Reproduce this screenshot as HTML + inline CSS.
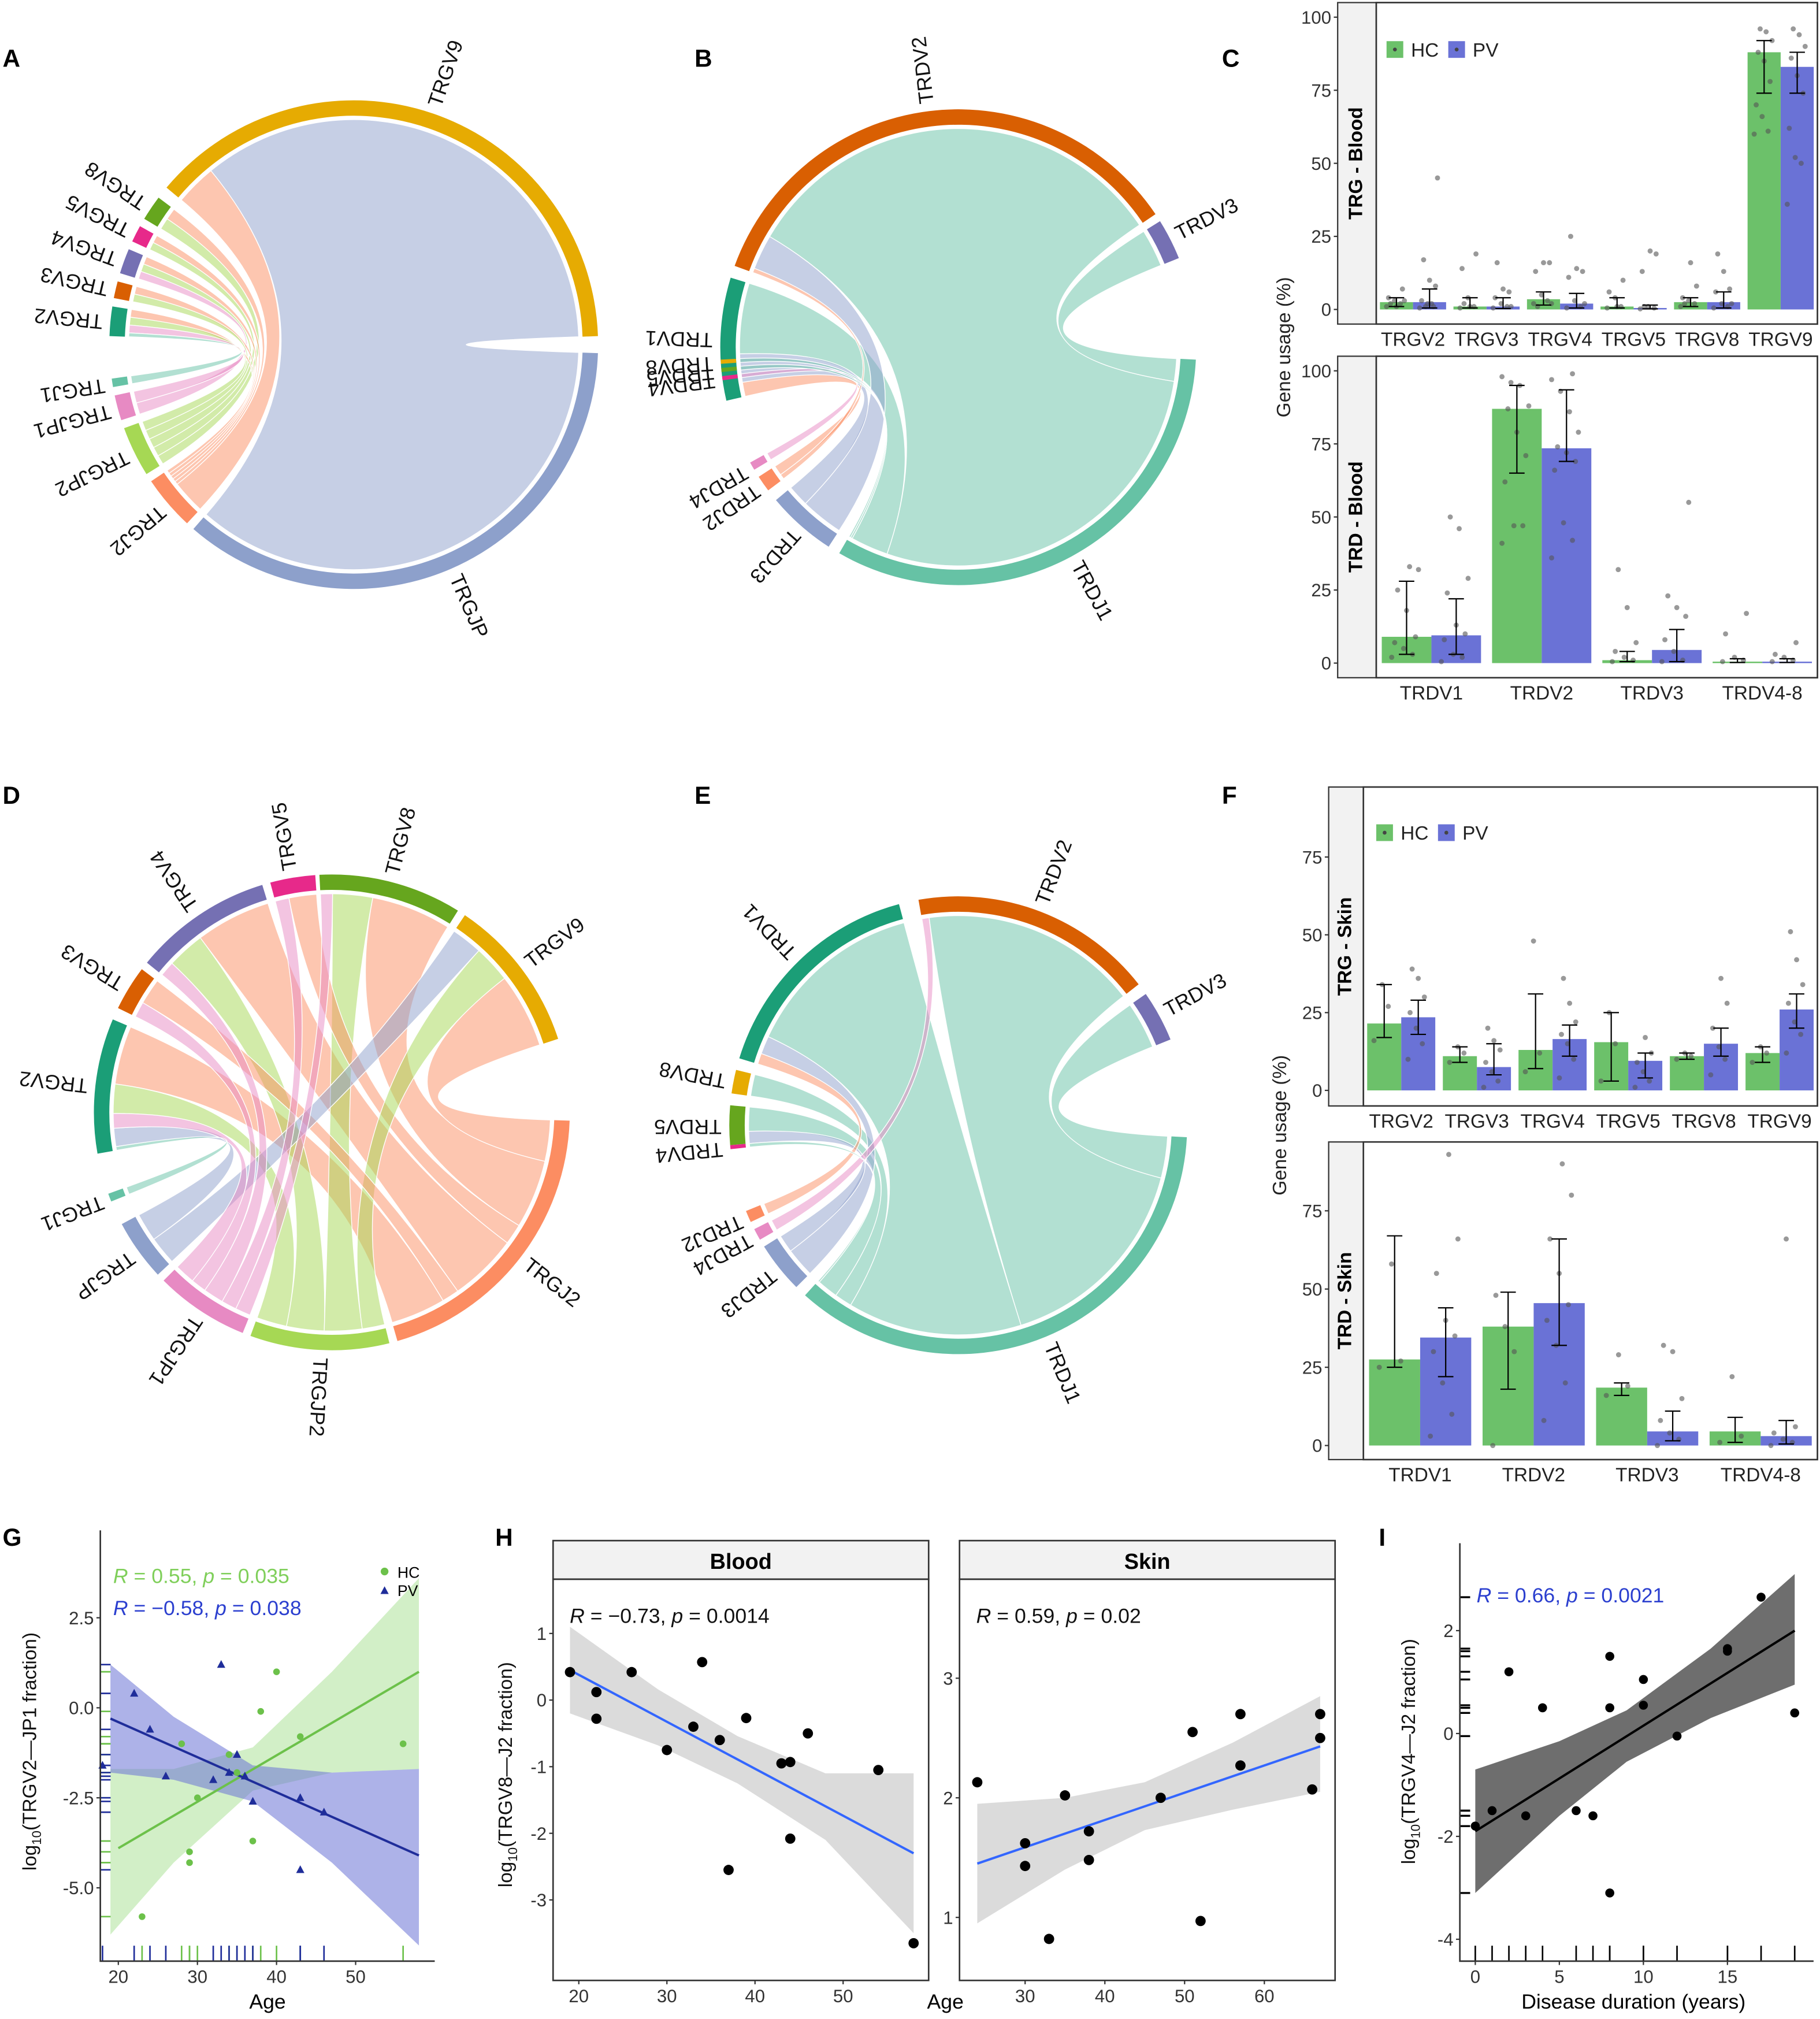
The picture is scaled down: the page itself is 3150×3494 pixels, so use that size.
<!DOCTYPE html>
<html><head><meta charset="utf-8">
<style>
html,body{margin:0;padding:0;background:#fff;}
svg{display:block;font-family:"Liberation Sans",Arial,sans-serif;}
</style></head>
<body>
<svg id="fig" xmlns="http://www.w3.org/2000/svg" width="3150" height="3494" viewBox="0 0 1415 1570" preserveAspectRatio="none">
<rect x="0" y="0" width="1415" height="1570" fill="#fff"/>
</svg>
<script>
// ---------- Chord A data ----------
const aNames=["TRGV9","TRGV8","TRGV5","TRGV4","TRGV3","TRGV2","TRGJ1","TRGJP1","TRGJP2","TRGJ2","TRGJP"];
const aStart=[-140,-149,-155,-163,-169,-178,170,162,148,133,2];
const aEnd=[-2,-143,-151,-157,-165,-171,172,168,160,146,131];
const aSrc=["TRGV9","TRGV9","TRGV8","TRGV8","TRGV5","TRGV5","TRGV4","TRGV4","TRGV4","TRGV3","TRGV3","TRGV2","TRGV2","TRGV2","TRGV2"];
const aTgt=["TRGJ2","TRGJP","TRGJ2","TRGJP2","TRGJ2","TRGJP2","TRGJ2","TRGJP2","TRGJP1","TRGJ2","TRGJP2","TRGJ2","TRGJP2","TRGJP1","TRGJ1"];
const aVal=[10,120,1,1,1,1,1,1,1,1,1,1,1,1,0.5];
// ---------- Chord B data ----------
const bNames=["TRDV1","TRDV2","TRDV3","TRDJ1","TRDJ3","TRDJ2","TRDJ4","TRDV4","TRDV5","TRDV8"];
const bStart=[-193,-160,-32,3,123,143,149,172,174,176];
const bEnd=[-163,-34,-22,120,140,147,151,173,175,177];
const bSrc=["TRDV1","TRDV1","TRDV1","TRDV2","TRDV2","TRDV2","TRDV3","TRDV4","TRDV5","TRDV8"];
const bTgt=["TRDJ3","TRDJ2","TRDJ1","TRDJ3","TRDJ2","TRDJ1","TRDJ1","TRDJ4","TRDJ1","TRDJ1"];
const bVal=[4,2,10,8,1,100,6,0.5,0.5,0.5];
// ---------- Chord D data ----------
const dNames=["TRGV2","TRGV3","TRGV4","TRGV5","TRGV8","TRGV9","TRGJ2","TRGJP2","TRGJP1","TRGJP","TRGJ1"];
const dStart=[-190,-154,-141,-105,-93,-56,2,76,112,137,158];
const dEnd=[-157,-143,-107,-94,-58,-18,74,110,135,152,160];
const dSrc=["TRGV2","TRGV2","TRGV2","TRGV2","TRGV3","TRGV3","TRGV4","TRGV4","TRGV4","TRGV5","TRGV5","TRGV8","TRGV8","TRGV8","TRGV9","TRGV9","TRGV9","TRGV2"];
const dTgt=["TRGJP","TRGJP1","TRGJP2","TRGJ2","TRGJP1","TRGJ2","TRGJP1","TRGJP2","TRGJ2","TRGJP1","TRGJ2","TRGJP2","TRGJP1","TRGJ2","TRGJP","TRGJP2","TRGJ2","TRGJ1"];
const dVal=[5,4,8,16,3,5,4,10,20,3,6,10,3,20,5,6,12,1];
// ---------- Chord E data ----------
const eNames=["TRDV5","TRDV8","TRDV1","TRDV2","TRDV3","TRDJ1","TRDJ3","TRDJ4","TRDJ2","TRDV4"];
const eStart=[-185,-172,-163,-100,-35,3,135,150,155,174];
const eEnd=[-175,-166,-105,-38,-22,132,148,153,158,175];
const eSrc=["TRDV5","TRDV5","TRDV8","TRDV1","TRDV1","TRDV1","TRDV2","TRDV2","TRDV3","TRDV4"];
const eTgt=["TRDJ3","TRDJ1","TRDJ1","TRDJ2","TRDJ3","TRDJ1","TRDJ4","TRDJ1","TRDJ1","TRDJ1"];
const eVal=[3,6,5,3,5,50,2,60,12,0.5];

const segColor={"TRGV9":"#e6ab02","TRGV8":"#66a61e","TRGV5":"#e7298a","TRGV4":"#7570b3","TRGV3":"#d95f02","TRGV2":"#1b9e77",
"TRGJ1":"#66c2a5","TRGJP1":"#e78ac3","TRGJP2":"#a6d854","TRGJ2":"#fc8d62","TRGJP":"#8da0cb",
"TRDV2":"#d95f02","TRDV3":"#7570b3","TRDV1":"#1b9e77","TRDV8":"#e6ab02","TRDV5":"#66a61e","TRDV4":"#e7298a",
"TRDJ1":"#66c2a5","TRDJ3":"#8da0cb","TRDJ2":"#fc8d62","TRDJ4":"#e78ac3"};

// ---------- Bar data ----------
const cTopCats=["TRGV2","TRGV3","TRGV4","TRGV5","TRGV8","TRGV9"];
const cTopHC=[2.5,1,3.5,1,2.5,88];
const cTopPV=[2.5,1,2,0.5,2.5,83];
const cTopHCLo=[1,0.5,1.5,0.5,1,74];
const cTopHCHi=[4,4,6,4,4,92];
const cTopPVLo=[0.5,0.3,0.5,0.2,0.5,74];
const cTopPVHi=[7,4,5.5,1.5,6,88];
const cTopHCPts=[[1,2,3,4,7,1,2,3],[0.5,1,4,14,19,1,2],[2,3,5,13,16,16,1,2],[0.5,1,4,6,10,1],[1,2,3,4,8,16,2],[60,61,66,70,78,85,88,92,95,96]];
const cTopPVPts=[[0.5,1,2,3,8,10,17,45,2,1],[0.5,1,2,4,6,7,16,1],[0.5,1,3,11,13,14,25,2],[0.2,0.5,1,13,19,20,1],[0.5,1,2,6,7,13,19,2],[36,50,52,62,74,80,86,90,94,96]];
const cBotCats=["TRDV1","TRDV2","TRDV3","TRDV4-8"];
const cBotHC=[9,87,1,0.5];
const cBotPV=[9.5,73.5,4.5,0.5];
const cBotHCLo=[3,65,0.5,0.2];
const cBotHCHi=[28,95,4,1.5];
const cBotPVLo=[3,69,0.5,0.2];
const cBotPVHi=[22,93.5,11.5,1.5];
const cBotHCPts=[[2,3,5,7,9,18,25,32,33],[41,47,47,62,71,79,87,88,95,96,98],[0.5,1,2,4,7,19,32],[0.5,1,2,10,17]];
const cBotPVPts=[[0.5,2,3,8,10,13,24,29,46,50],[36,42,48,66,69,72,74,79,86,93,97,99],[0.5,1,4,8,16,19,23,55],[0.5,1,2,3,7]];
const fTopCats=["TRGV2","TRGV3","TRGV4","TRGV5","TRGV8","TRGV9"];
const fTopHC=[21.5,11,13,15.5,11,12];
const fTopPV=[23.5,7.5,16.5,9.5,15,26];
const fTopHCLo=[17,9,7,3,10,9];
const fTopHCHi=[34,14,31,25,12,14];
const fTopPVLo=[18,5,11,4,11,20];
const fTopPVHi=[29,15,21,12,20,31];
const fTopHCPts=[[16,27,34],[9,12,14],[6,12,48],[3,15,25],[10,11,12],[9,12,14]];
const fTopPVPts=[[10,15,20,25,30,36,39],[1,3,6,9,13,16,20],[4,10,15,18,22,28,36],[1,3,6,9,12,17],[5,10,14,20,28,36],[12,18,22,28,34,42,51]];
const fBotCats=["TRDV1","TRDV2","TRDV3","TRDV4-8"];
const fBotHC=[27.5,38,18.5,4.5];
const fBotPV=[34.5,45.5,4.5,3];
const fBotHCLo=[25,18,16,1];
const fBotHCHi=[67,49,20,9];
const fBotPVLo=[22,32,1.5,0.5];
const fBotPVHi=[44,66,11,8];
const fBotHCPts=[[25,27,58],[0,30,38,48],[16,19,29],[1,3,22]];
const fBotPVPts=[[3,10,20,30,35,40,55,66,93],[8,20,32,40,45,55,66,80,90],[0,2,4,8,15,30,32],[0,1,2,4,6,66]];

// ---------- Scatter data ----------
const gHCx=[23,29,29,30,34,37,38,40,43,56,28,35];
const gHCy=[-5.8,-4.0,-4.3,-2.5,-1.3,-3.7,-0.1,1.0,-0.8,-1.0,-1.0,-1.8];
const gPVx=[18,22,24,26,33,35,36,37,43,43,46,34,32];
const gPVy=[-1.6,0.4,-0.6,-1.9,1.2,-1.3,-1.9,-2.6,-4.5,-2.5,-2.9,-1.8,-2.0];
const gHCfitX=[20,58], gHCfitY=[-3.9,1.0];
const gPVfitX=[19,58], gPVfitY=[-0.3,-4.1];
const gHCbandX=[19,27,37,47,58], gHCbandLo=[-6.3,-4.3,-2.3,-1.8,-1.7], gHCbandHi=[-1.7,-1.7,-1.1,1.0,3.6];
const gPVbandX=[19,27,37,47,58], gPVbandLo=[-1.8,-2.0,-2.6,-4.3,-6.6], gPVbandHi=[1.2,-0.25,-1.6,-1.8,-1.7];
const hBx=[19,22,22,26,30,33,34,36,37,39,43,44,44,46,54,58];
const hBy=[0.42,0.12,-0.28,0.42,-0.75,-0.4,0.57,-0.6,-2.55,-0.27,-0.95,-0.93,-2.08,-0.5,-1.05,-3.65];
const hBfitX=[19,58], hBfitY=[0.45,-2.3];
const hBbandX=[19,29,38,48,58], hBbandLo=[-0.2,-0.68,-1.25,-2.1,-3.5], hBbandHi=[1.1,0.16,-0.54,-1.1,-1.1];
const hSx=[24,30,30,33,35,38,38,47,51,52,57,57,66,67,67];
const hSy=[2.13,1.62,1.43,0.82,2.02,1.72,1.48,2.0,2.55,0.97,2.7,2.27,2.07,2.7,2.5];
const hSfitX=[24,67], hSfitY=[1.45,2.43];
const hSbandX=[24,35,45,56,67], hSbandLo=[0.95,1.4,1.73,1.9,2.05], hSbandHi=[1.95,2.0,2.13,2.46,2.85];
const iX=[0,1,2,3,4,6,7,8,8,8,10,10,12,15,15,17,19];
const iY=[-1.8,-1.5,1.2,-1.6,0.5,-1.5,-1.6,1.5,0.5,-3.1,1.05,0.55,-0.05,1.6,1.65,2.65,0.4];
const iFitX=[0,19], iFitY=[-1.9,2.0];
const iBandX=[0,5,9,14,19], iBandLo=[-3.1,-1.6,-0.55,0.3,0.95], iBandHi=[-0.7,-0.15,0.45,1.65,3.1];

const NS="http://www.w3.org/2000/svg";
const svg=document.getElementById('fig');
function mk(tag,attrs,parent){const e=document.createElementNS(NS,tag);for(const k in attrs)e.setAttribute(k,attrs[k]);(parent||svg).appendChild(e);return e;}
function txt(x,y,s,attrs,parent){const t=mk('text',Object.assign({x:x,y:y},attrs||{}),parent);t.textContent=s;return t;}
function rad(a){return a*Math.PI/180;}
function pt(cx,cy,r,a){return [cx+r*Math.cos(rad(a)),cy+r*Math.sin(rad(a))];}

function panelLetter(x,y,s){const t=txt(x,y,s,{'font-size':19,'font-weight':'bold'});

}

function drawChord(id,cx,cy,R,names,starts,ends,src,tgt,val){
  const g=mk('g',{});
  
  
  const idx={};names.forEach((n,i)=>idx[n]=i);
  const tot=names.map(()=>0);
  src.forEach((s,i)=>{tot[idx[s]]+=val[i];tot[idx[tgt[i]]]+=val[i];});
  const mid=names.map((n,i)=>(starts[i]+ends[i])/2);
  const rr=R-15;
  // per-segment ends list: {link, partner}
  const segLinks=names.map(()=>[]);
  src.forEach((s,i)=>{segLinks[idx[s]].push({l:i,p:idx[tgt[i]],role:'s'});segLinks[idx[tgt[i]]].push({l:i,p:idx[s],role:'t'});});
  const spanS={},spanT={};
  segLinks.forEach((lst,si)=>{
    lst.sort((a,b)=>{const da=((mid[a.p]-mid[si])%360+360)%360, db=((mid[b.p]-mid[si])%360+360)%360;return db-da;});
    let cur=starts[si];
    lst.forEach(o=>{const span=(ends[si]-starts[si])*val[o.l]/tot[si];const r=[cur,cur+span];cur+=span;if(o.role==='s')spanS[o.l]=r;else spanT[o.l]=r;});
  });
  const ribs=src.map((s,i)=>i).sort((a,b)=>val[b]-val[a]);
  ribs.forEach(i=>{
    const s=spanS[i],t=spanT[i];
    const p0=pt(cx,cy,rr,s[0]),p1=pt(cx,cy,rr,s[1]),q0=pt(cx,cy,rr,t[0]),q1=pt(cx,cy,rr,t[1]);
    const la1=(s[1]-s[0])>180?1:0, la2=(t[1]-t[0])>180?1:0;
    const d=`M${p0[0]},${p0[1]} A${rr},${rr} 0 ${la1} 1 ${p1[0]},${p1[1]} Q${cx},${cy} ${q0[0]},${q0[1]} A${rr},${rr} 0 ${la2} 1 ${q1[0]},${q1[1]} Q${cx},${cy} ${p0[0]},${p0[1]} Z`;
    const p=mk('path',{d:d,fill:segColor[tgt[i]],'fill-opacity':0.5,stroke:'#fff','stroke-width':0.6},g);
    
    
  });
  names.forEach((n,i)=>{
    const a0=starts[i],a1=ends[i],ro=R,ri=R-12;
    const o0=pt(cx,cy,ro,a0),o1=pt(cx,cy,ro,a1),i1=pt(cx,cy,ri,a1),i0=pt(cx,cy,ri,a0);
    const la=(a1-a0)>180?1:0;
    const d=`M${o0[0]},${o0[1]} A${ro},${ro} 0 ${la} 1 ${o1[0]},${o1[1]} L${i1[0]},${i1[1]} A${ri},${ri} 0 ${la} 0 ${i0[0]},${i0[1]} Z`;
    const p=mk('path',{d:d,fill:segColor[n]},g);
    
    
    const am=(a0+a1)/2;
    const t=txt(R+6,0,n,{'font-size':16,'dominant-baseline':'middle','text-anchor':'start',fill:'#111',transform:`translate(${cx},${cy}) rotate(${am})`},g);
    
    
  });
}

function drawBars(id,cats,hc,pv,hcLo,hcHi,pvLo,pvHi,hcPts,pvPts,box,ymin,ymax,ticks,strip,legend){
  const g=mk('g',{});
  
  
  const {x0,x1,y0,y1,sx}=box;
  const Y=v=>y1-(v-ymin)/(ymax-ymin)*(y1-y0);
  const w=(x1-x0)/cats.length;
  const bw=w*0.45;
  const sr=mk('rect',{x:sx,y:y0,width:x0-sx,height:y1-y0,fill:'#f2f2f2',stroke:'#333','stroke-width':1},g);
  
  
  const st=txt(0,0,strip,{'font-size':15,'font-weight':'bold','text-anchor':'middle','dominant-baseline':'middle',transform:`translate(${(sx+x0)/2},${(y0+y1)/2}) rotate(-90)`},g);
  
  
  ticks.forEach(v=>{
    const t=txt(sx-5,Y(v)+5,String(v),{'font-size':14,'text-anchor':'end',fill:'#333'},g);
    
    
    const l=mk('line',{x1:sx-3,x2:sx,y1:Y(v),y2:Y(v),stroke:'#333'},g);
    
    
  });
  cats.forEach((c,i)=>{
    const cx=x0+w*(i+0.5);
    [[hc,hcLo,hcHi,hcPts,'#6cc16a','hc',-1],[pv,pvLo,pvHi,pvPts,'#6a72d6','pv',0]].forEach(([vals,lo,hi,pts,col,nm,off])=>{
      const bx=cx+off*bw;
      const r=mk('rect',{x:bx,y:Y(vals[i]),width:bw,height:Y(0)-Y(vals[i]),fill:col},g);
      
      
      pts[i].forEach((v,j)=>{
        const jx=bx+bw*(0.2+0.6*((j*37)%10)/10);
        const d=mk('circle',{cx:jx,cy:Y(v),r:2,fill:'#555','fill-opacity':0.6},g);
        
        
      });
      const ex=bx+bw/2;
      const e=mk('path',{d:`M${ex},${Y(lo[i])}V${Y(hi[i])}M${ex-6},${Y(lo[i])}H${ex+6}M${ex-6},${Y(hi[i])}H${ex+6}`,stroke:'#000','stroke-width':1,fill:'none'},g);
      
      
    });
    const tl=txt(cx,y1+17,c,{'font-size':15,'text-anchor':'middle',fill:'#222'},g);
    
    
  });
  const fr=mk('rect',{x:x0,y:y0,width:x1-x0,height:y1-y0,fill:'none',stroke:'#333','stroke-width':1.2},g);
  
  
  if(legend){
    const [lx,ly]=legend;
    [['#6cc16a','HC',0],['#6a72d6','PV',48]].forEach(([col,lab,dx])=>{
      const k=mk('rect',{x:lx+dx,y:ly-6,width:13,height:13,fill:col},g);
      
      
      mk('circle',{cx:lx+dx+6.5,cy:ly+0.5,r:1.5,fill:'#444'},g);
      const t=txt(lx+dx+19,ly+6,lab,{'font-size':15,fill:'#222'},g);
      
      
    });
  }
}

function band(g,X,Y,bx,lo,hi,col,op,name){
  let d='M'+bx.map((x,i)=>X(x)+','+Y(hi[i])).join(' L');
  d+=' L'+bx.slice().reverse().map((x,i)=>X(x)+','+Y(lo[bx.length-1-i])).join(' L')+' Z';
  const p=mk('path',{d:d,fill:col,'fill-opacity':op},g);
  
  
}
function fitLine(g,X,Y,fx,fy,col,name){
  const l=mk('line',{x1:X(fx[0]),y1:Y(fy[0]),x2:X(fx[1]),y2:Y(fy[1]),stroke:col,'stroke-width':1.8},g);
  
  
}
function pts(g,X,Y,xs,ys,col,r,name){
  xs.forEach((x,i)=>{
    const c=mk('circle',{cx:X(x),cy:Y(ys[i]),r:r,fill:col},g);
    
    
  });
}
function tri(g,X,Y,xs,ys,col,name){
  xs.forEach((x,i)=>{
    const px=X(x),py=Y(ys[i]);
    const p=mk('path',{d:`M${px},${py-3.5}L${px+3.2},${py+2.5}L${px-3.2},${py+2.5}Z`,fill:col},g);
    
    
  });
}
function axisTicks(g,X,Y,xt,yt,xl,yl,left,bottom){
  xt.forEach((v,i)=>{
    mk('line',{x1:X(v),x2:X(v),y1:bottom,y2:bottom+3,stroke:'#333'},g);
    const t=txt(X(v),bottom+17,xl[i],{'font-size':14,'text-anchor':'middle',fill:'#333'},g);
    
    
  });
  yt.forEach((v,i)=>{
    mk('line',{x1:left-3,x2:left,y1:Y(v),y2:Y(v),stroke:'#333'},g);
    const t=txt(left-5,Y(v)+5,yl[i],{'font-size':14,'text-anchor':'end',fill:'#333'},g);
    
    
  });
}
function ylabel(g,x,y,main,tail){
  const t=mk('text',{'font-size':15,'text-anchor':'middle',fill:'#111',transform:`translate(${x},${y}) rotate(-90)`},g);
  
  
  const a=mk('tspan',{},t);a.textContent='log';
  const b=mk('tspan',{'font-size':10,dy:4},t);b.textContent='10';
  const c=mk('tspan',{dy:-4},t);c.textContent=tail;
}
function stat(g,x,y,r,p,col){
  const t=mk('text',{x:x,y:y,'font-size':16,fill:col},g);
  
  
  const a=mk('tspan',{'font-style':'italic'},t);a.textContent='R';
  const b=mk('tspan',{},t);b.textContent=' = '+r+', ';
  const c=mk('tspan',{'font-style':'italic'},t);c.textContent='p';
  const d=mk('tspan',{},t);d.textContent=' = '+p;
}

// ---------- draw ----------
panelLetter(2,52,'A');panelLetter(540,52,'B');panelLetter(950,52,'C');
panelLetter(2,625,'D');panelLetter(540,625,'E');panelLetter(950,625,'F');
panelLetter(2,1202,'G');panelLetter(385,1202,'H');panelLetter(1072,1202,'I');

drawChord('a',275,268,190,aNames,aStart,aEnd,aSrc,aTgt,aVal);
drawChord('b',745,270,185,bNames,bStart,bEnd,bSrc,bTgt,bVal);
drawChord('d',258,865,185,dNames,dStart,dEnd,dSrc,dTgt,dVal);
drawChord('e',745,875,178,eNames,eStart,eEnd,eSrc,eTgt,eVal);

drawBars('c-trg',cTopCats,cTopHC,cTopPV,cTopHCLo,cTopHCHi,cTopPVLo,cTopPVHi,cTopHCPts,cTopPVPts,{x0:1070,x1:1413,y0:2,y1:252,sx:1040},-5,105,[0,25,50,75,100],'TRG - Blood',[1078,38]);
drawBars('c-trd',cBotCats,cBotHC,cBotPV,cBotHCLo,cBotHCHi,cBotPVLo,cBotPVHi,cBotHCPts,cBotPVPts,{x0:1070,x1:1413,y0:277,y1:527,sx:1040},-5,105,[0,25,50,75,100],'TRD - Blood',null);
drawBars('f-trg',fTopCats,fTopHC,fTopPV,fTopHCLo,fTopHCHi,fTopPVLo,fTopPVHi,fTopHCPts,fTopPVPts,{x0:1060,x1:1413,y0:612,y1:860,sx:1033},-5,97.5,[0,25,50,75],'TRG - Skin',[1070,647]);
drawBars('f-trd',fBotCats,fBotHC,fBotPV,fBotHCLo,fBotHCHi,fBotPVLo,fBotPVHi,fBotHCPts,fBotPVPts,{x0:1060,x1:1413,y0:888,y1:1135,sx:1033},-4.5,97,[0,25,50,75],'TRD - Skin',null);
[[1003,270],[1000,875]].forEach(([x,y])=>{
  const t=txt(0,0,'Gene usage (%)',{'font-size':15,'text-anchor':'middle',fill:'#222',transform:`translate(${x},${y}) rotate(-90)`});
  
  
});

// G
(function(){
  const g=mk('g',{});
  
  
  const X=x=>92+(x-20)*6.15, Y=y=>1328-y*28;
  band(g,X,Y,gHCbandX,gHCbandLo,gHCbandHi,'#a6e08f',0.5,'ci-band-hc');
  band(g,X,Y,gPVbandX,gPVbandLo,gPVbandHi,'#6a72d6',0.55,'ci-band-pv');
  fitLine(g,X,Y,gHCfitX,gHCfitY,'#6cc14a','fit-line-hc');
  fitLine(g,X,Y,gPVfitX,gPVfitY,'#1f2d9a','fit-line-pv');
  pts(g,X,Y,gHCx,gHCy,'#6cc14a',2.6,'point-hc');
  tri(g,X,Y,gPVx,gPVy,'#1f2d9a','point-pv');
  gHCx.forEach(x=>mk('line',{x1:X(x),x2:X(x),y1:1525,y2:1513,stroke:'#6cc14a','stroke-width':1.2},g));
  gPVx.forEach(x=>mk('line',{x1:X(x),x2:X(x),y1:1525,y2:1513,stroke:'#1f2d9a','stroke-width':1.2},g));
  gHCy.forEach(y=>mk('line',{x1:78,x2:86,y1:Y(y),y2:Y(y),stroke:'#6cc14a','stroke-width':1.2},g));
  gPVy.forEach(y=>mk('line',{x1:78,x2:86,y1:Y(y),y2:Y(y),stroke:'#1f2d9a','stroke-width':1.2},g));
  const ax=mk('path',{d:'M78,1190V1525H338',stroke:'#333',fill:'none','stroke-width':1.2},g);
  
  
  axisTicks(g,X,Y,[20,30,40,50],[2.5,0,-2.5,-5],['20','30','40','50'],['2.5','0.0','-2.5','-5.0'],78,1525);
  const xl=txt(208,1562,'Age',{'font-size':16,'text-anchor':'middle'},g);
  
  
  ylabel(g,28,1362,'log','(TRGV2\u2014JP1 fraction)');
  stat(g,88,1231,'0.55','0.035','#7fcf5a');
  stat(g,88,1256,'\u22120.58','0.038','#2b3fcf');
  mk('circle',{cx:299,cy:1222,r:3,fill:'#6cc14a'},g);
  tri(g,x=>x,y=>y,[299],[1237],'#1f2d9a','legend-key-pv');
  const l1=txt(309,1227,'HC',{'font-size':12},g);
  
  
  const l2=txt(309,1241,'PV',{'font-size':12},g);
  
  
})();

// H
(function(){
  const g=mk('g',{});
  
  
  [[430,722,'Blood'],[746,1038,'Skin']].forEach(([a,b,s])=>{
    const r=mk('rect',{x:a,y:1198,width:b-a,height:30,fill:'#f2f2f2',stroke:'#333','stroke-width':1.2},g);
    
    
    const t=txt((a+b)/2,1220,s,{'font-size':17,'font-weight':'bold','text-anchor':'middle'},g);
    
    
  });
  const XB=x=>450+(x-20)*6.85, YB=y=>1322-y*51.8;
  band(g,XB,YB,hBbandX,hBbandLo,hBbandHi,'#bdbdbd',0.55,'ci-band-blood');
  fitLine(g,XB,YB,hBfitX,hBfitY,'#3366ff','fit-line-blood');
  pts(g,XB,YB,hBx,hBy,'#000',4,'point-blood');
  axisTicks(g,XB,YB,[20,30,40,50],[1,0,-1,-2,-3],['20','30','40','50'],['1','0','-1','-2','-3'],430,1540);
  const XS=x=>797+(x-30)*6.2, YS=y=>1398-(y-2)*93;
  band(g,XS,YS,hSbandX,hSbandLo,hSbandHi,'#bdbdbd',0.55,'ci-band-skin');
  fitLine(g,XS,YS,hSfitX,hSfitY,'#3366ff','fit-line-skin');
  pts(g,XS,YS,hSx,hSy,'#000',4,'point-skin');
  axisTicks(g,XS,YS,[30,40,50,60],[3,2,1],['30','40','50','60'],['3','2','1'],746,1540);
  [[430,722],[746,1038]].forEach(([a,b])=>{
    const r=mk('rect',{x:a,y:1228,width:b-a,height:312,fill:'none',stroke:'#333','stroke-width':1.2},g);
    
    
  });
  stat(g,443,1262,'\u22120.73','0.0014','#111');
  stat(g,759,1262,'0.59','0.02','#111');
  const xl=txt(735,1562,'Age',{'font-size':16,'text-anchor':'middle'},g);
  
  
  ylabel(g,398,1380,'log','(TRGV8\u2014J2 fraction)');
})();

// I
(function(){
  const g=mk('g',{});
  
  
  const X=x=>1147+x*13.07, Y=y=>1348-y*40;
  band(g,X,Y,iBandX,iBandLo,iBandHi,'#555',0.85,'ci-band');
  fitLine(g,X,Y,iFitX,iFitY,'#000','fit-line');
  pts(g,X,Y,iX,iY,'#000',3.5,'point');
  iX.forEach(x=>mk('line',{x1:X(x),x2:X(x),y1:1525,y2:1513,stroke:'#000','stroke-width':1.2},g));
  iY.forEach(y=>mk('line',{x1:1135,x2:1143,y1:Y(y),y2:Y(y),stroke:'#000','stroke-width':1.5},g));
  const ax=mk('path',{d:'M1135,1200V1525H1410',stroke:'#333',fill:'none','stroke-width':1.2},g);
  
  
  axisTicks(g,X,Y,[0,5,10,15],[2,0,-2,-4],['0','5','10','15'],['2','0','-2','-4'],1135,1525);
  const xl=txt(1270,1562,'Disease duration (years)',{'font-size':16,'text-anchor':'middle'},g);
  
  
  ylabel(g,1100,1362,'log','(TRGV4\u2014J2 fraction)');
  stat(g,1148,1246,'0.66','0.0021','#2b3fcf');
})();
</script>
</body></html>
